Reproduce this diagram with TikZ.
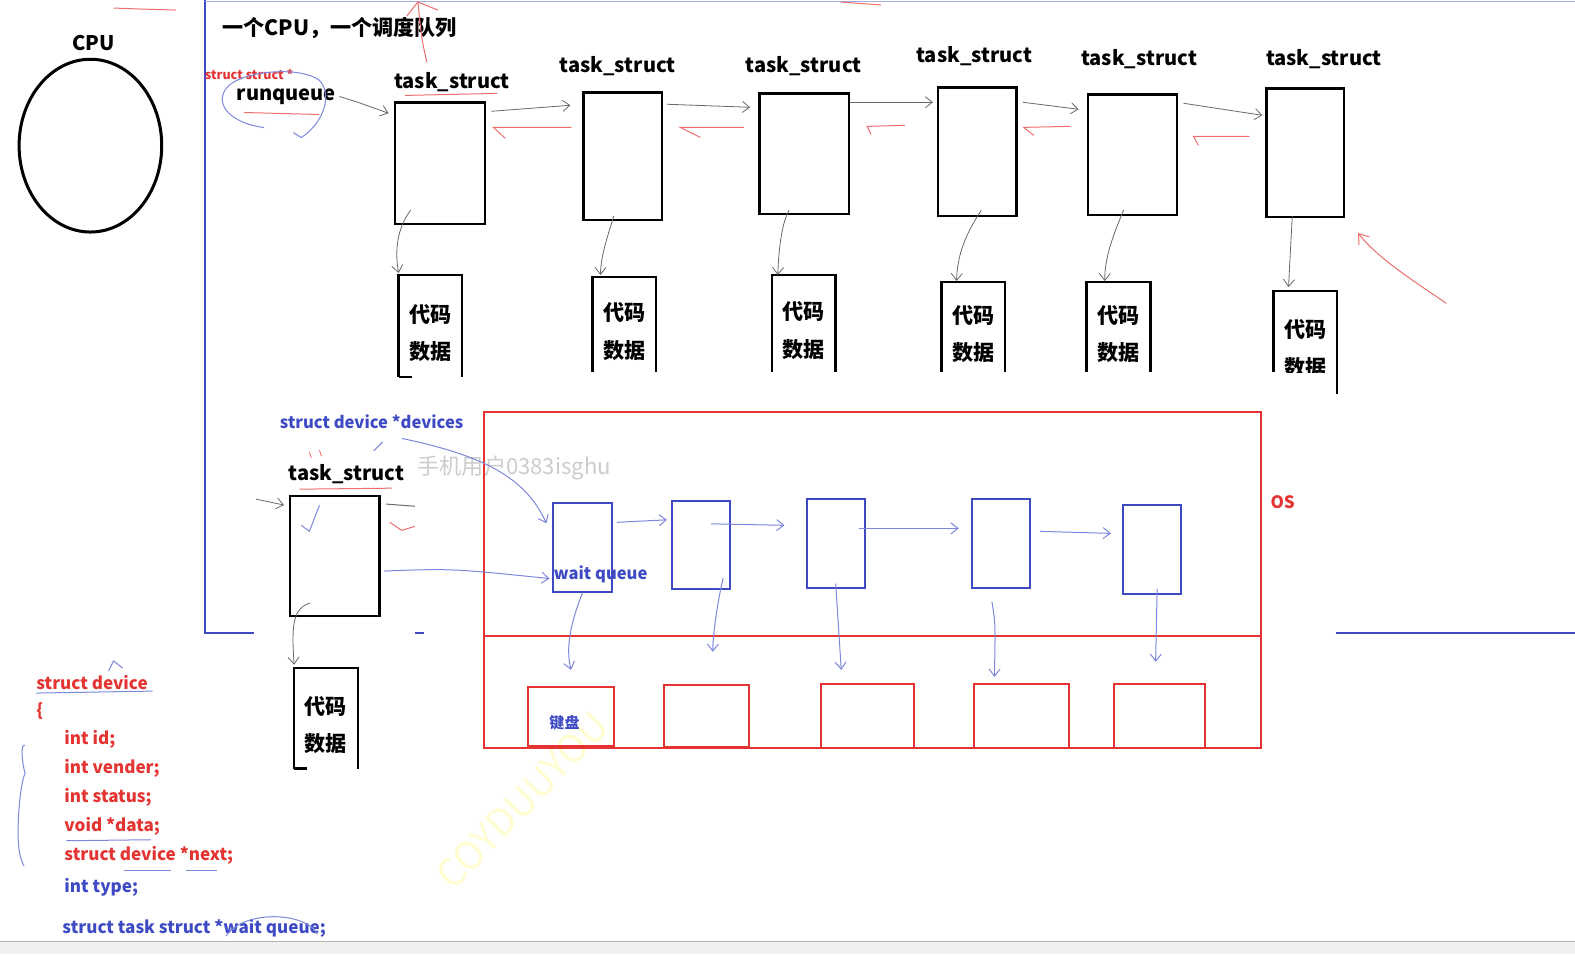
\documentclass[tikz,border=0pt]{standalone}
\usepackage{fontspec}
\setmainfont{Noto Sans CJK SC}
\usepackage{tikz}
\usetikzlibrary{calc,arrows.meta,shapes.geometric}
\definecolor{penred}{RGB}{228,52,50}
\definecolor{penblue}{RGB}{62,74,196}
\definecolor{inkgray}{RGB}{105,105,105}
\definecolor{softred}{RGB}{238,110,110}
\definecolor{softblue}{RGB}{125,135,220}
\tikzset{
 taskbox/.style={draw, line width=2.4pt, inner sep=0pt},
 codebox/.style={inner sep=0pt, minimum width=63pt, align=center, font=\fontsize{21}{37}\selectfont\bfseries},
 codeline/.style={line width=2.4pt},
 devbox/.style={draw=penblue, line width=2pt, inner sep=0pt, minimum width=58pt, minimum height=88pt},
 hwbox/.style={draw=penred, line width=2.2pt, inner sep=0pt},
 tlabel/.style={font=\fontsize{20}{24}\selectfont\bfseries},
 grayarr/.style={inkgray, line width=0.8pt, -{Straight Barb[length=7pt,width=11pt]}},
 redback/.style={softred, line width=1pt},
 bluearr/.style={softblue, line width=1pt, -{Straight Barb[length=7pt,width=11pt]}},
 cline/.style={anchor=west, inner sep=0pt, font=\fontsize{17}{19}\selectfont\bfseries, text=penred},
}
\newcommand{\cdtext}{\rule{0pt}{32pt}代码\\数据}
\begin{document}
\begin{tikzpicture}[x=1pt,y=-1pt]
\useasboundingbox (0,0) rectangle (1568,950);
% screen strip at the bottom
\fill[gray!12] (0,938) rectangle (1568,950);
\draw[gray!60, line width=1.2pt] (0,937) -- (1568,937);
% watermarks
\node[text=gray!40, font=\fontsize{22}{24}\selectfont](wm) at (512,466){手机用户0383isghu};
\node[text=yellow!18, rotate=46, font=\fontsize{38}{40}\selectfont](wm2) at (520,797){COYDUUYOU};

% cpu
\node[tlabel](cpu) at (93,43){CPU};
\node[draw, ellipse, line width=3pt, minimum width=142pt, minimum height=172pt](core) at (90,145){};

% blue frame
\draw[penblue, line width=1.6pt] (253,630) -| (204,0);
\draw[softblue!70, line width=1pt] (204,1) -- (1568,1);
\draw[penblue, line width=1.6pt] (413,630) -- (422,630);
\draw[penblue, line width=1.6pt] (1330,630) -- (1568,630);
\node[tlabel, font=\fontsize{21}{24}\selectfont\bfseries, anchor=west](title) at (218,28){一个CPU，一个调度队列};

% runqueue
\node[font=\fontsize{12.5}{13}\selectfont\bfseries, text=penred](rqtype) at (248,74){struct struct *};
\node[tlabel](rq) at (285,96){runqueue};
\draw[softblue, line width=1pt] (263,127) .. controls (225,122) and (212,100) .. (228,85) .. controls (245,70) and (300,66) .. (318,80) .. controls (330,92) and (325,120) .. (300,137) -- (292,132);
\draw[softred, line width=1pt] (243,112) -- (318,114);

% run queue of task_struct
\node[taskbox, minimum width=90pt, minimum height=121pt](t1) at (438,162.5){};
\node[taskbox, minimum width=78pt, minimum height=127pt](t2) at (620,155.5){};
\node[taskbox, minimum width=89pt, minimum height=120pt](t3) at (800.5,153){};
\node[taskbox, minimum width=78pt, minimum height=128pt](t4) at (973,151){};
\node[taskbox, minimum width=89pt, minimum height=120pt](t5) at (1127.5,154){};
\node[taskbox, minimum width=77pt, minimum height=128pt](t6) at (1299.5,152){};
\node[tlabel](n1) at (450,82){task\_struct};
\node[tlabel](n2) at (615,66){task\_struct};
\node[tlabel](n3) at (800,66){task\_struct};
\node[tlabel](n4) at (970,56){task\_struct};
\node[tlabel](n5) at (1134,59){task\_struct};
\node[tlabel](n6) at (1318,59){task\_struct};
\draw[softred, line width=1pt] (403,95) -- (495,93);

\draw[grayarr] (rq.east) .. controls (360,103) .. ($(t1.north west)+(-5,12)$);
\draw[grayarr] ($(t1.north east)+(5,10)$) -- ($(t2.north west)+(-12,14)$);
\draw[grayarr] ($(t2.north east)+(4,13)$) -- ($(t3.north west)+(-8,15)$);
\draw[grayarr] ($(t3.north east)+(0,10)$) -- ($(t4.north west)+(-4,16)$);
\draw[grayarr] ($(t4.north east)+(5,16)$) -- ($(t5.north west)+(-8,16)$);
\draw[grayarr] ($(t5.north east)+(5,10)$) -- ($(t6.north west)+(-3,28)$);

\draw[redback] ($(t2.north west)+(-11,36)$) -- ($(t1.north east)+(7,26)$) -- ++(12,11);
\draw[redback] ($(t3.north west)+(-14,35)$) -- ($(t2.north east)+(17,36)$) -- ++(20,10);
\draw[redback] ($(t4.north west)+(-32,39)$) -- ($(t3.north east)+(17,34)$) -- ++(4,8);
\draw[redback] ($(t5.north west)+(-16,33)$) -- ($(t4.north east)+(6,41)$) -- ++(10,8);
\draw[redback] ($(t6.north west)+(-16,49)$) -- ($(t5.north east)+(15,43)$) -- ++(5,9);

% code and data
\node[codebox, minimum height=101pt](c1) at (428.5,324.5){\cdtext};
\node[codebox, minimum height=94pt](c2) at (621.5,323){\cdtext};
\node[codebox, minimum height=96pt](c3) at (800,322){\cdtext};
\node[codebox, minimum height=89pt](c4) at (969,325.5){\cdtext};
\node[codebox, minimum height=89pt](c5) at (1113.5,325.5){\cdtext};
\begin{scope}
\clip (1240,280) rectangle (1350,371);
\node[codebox, minimum height=100pt](c6) at (1299.5,340){\cdtext};
\end{scope}
\foreach \c in {c1,c2,c3,c4,c5}
  \draw[codeline] (\c.south west) |- (\c.north east) -- (\c.south east);
\draw[codeline] (c1.south west) -- ++(13,0);
\draw[codeline] ($(c6.north west)+(0,81)$) |- (c6.north east) -- ++(0,102);

\draw[grayarr] ($(t1.south west)+(17,-15)$) .. controls (395,228) and (393,250) .. ($(c1.north west)+(0,-2)$);
\draw[grayarr] ($(t2.south)+(-9,-5)$) .. controls (605,235) and (598,255) .. ($(c2.north west)+(8,-2)$);
\draw[grayarr] ($(t3.south)+(-15,-5)$) .. controls (777,225) and (775,255) .. ($(c3.north west)+(6,0)$);
\draw[grayarr] ($(t4.south)+(4,-7)$) .. controls (960,235) and (953,255) .. ($(c4.north west)+(15,-1)$);
\draw[grayarr] ($(t5.south)+(-9,-6)$) .. controls (1108,235) and (1100,255) .. ($(c5.north west)+(18,-1)$);
\draw[grayarr] ($(t6.south)+(-13,-2)$) -- ($(c6.north west)+(15,-4)$);

% loose pen strokes
\coordinate (mark1) at (1440,302);
\draw[softred, line width=1pt, -{Straight Barb[length=9pt,width=13pt]}] (mark1) .. controls (1400,275) and (1370,255) .. (1352,232);
\draw[softred, line width=1pt] (113,8) -- (140,9) -- (175,10);
\draw[softred, line width=1pt] (837,2) -- (877,5);
\draw[softred, line width=1pt] (425,62) .. controls (420,40) .. (416,2);
\draw[softred, line width=1pt] (405,16) -- (416,2) -- (436,10);

% waiting task
\node[font=\fontsize{16.5}{18}\selectfont\bfseries, text=penblue](devs) at (370,420){struct device *devices};
\node[tlabel](n7) at (345,472){task\_struct};
\draw[softred, line width=1pt] (298,487) -- (390,486);
\draw[softred, line width=0.8pt] (308,450) -- (310,456) (318,448) -- (320,454);
\node[taskbox, minimum width=89pt, minimum height=119pt](t7) at (333.5,553.5){};
\node[codebox, minimum height=100pt](c7) at (324.5,715){\cdtext};
\draw[codeline] (c7.south west) |- (c7.north east) -- (c7.south east);
\draw[codeline] (c7.south west) -- ++(13,0);
\draw[grayarr] ($(t7.south west)+(21,-14)$) .. controls (292,606) and (290,620) .. ($(c7.north west)+(0,-3)$);
\coordinate (inL) at (255,497);
\coordinate (outR) at (413,504);
\draw[grayarr] (inL) -- ($(t7.north west)+(-5,10)$);
\draw[inkgray, line width=1pt] ($(t7.north east)+(5,9)$) -- (outR);
\draw[softred, line width=1pt] (388,520) -- (400,528) -- (413,524);
\draw[softblue, line width=1pt] (300,523) -- (308,529) -- (318,503);
\draw[softblue, line width=1pt] (372,449) -- (381,440);

% OS area
\node[draw=penred, line width=2.2pt, inner sep=0pt, minimum width=773pt, minimum height=335pt](os) at (868.5,577.5){};
\draw[penred, line width=2.2pt] ($(os.north west)+(0,224)$) -- ($(os.north east)+(0,224)$);
\node[font=\fontsize{17}{18}\selectfont\bfseries, text=penred](oslabel) at (1277,500){OS};

\node[devbox](d1) at (580,545){};
\node[devbox](d2) at (698,542.5){};
\node[devbox](d3) at (832,541){};
\node[devbox](d4) at (996.5,541){};
\node[devbox](d5) at (1147,547){};
\node[font=\fontsize{16.5}{18}\selectfont\bfseries, text=penblue](wq) at (598,572){wait\ queue};

\draw[bluearr] ($(devs.south)+(30,6)$) .. controls (490,455) and (525,480) .. ($(d1.north west)+(-6,21)$);
\draw[bluearr] ($(t7.east)+(3,15)$) .. controls (450,566) .. ($(d1.south west)+(-3,-14)$);
\draw[bluearr] ($(d1.north east)+(4,20)$) -- ($(d2.north west)+(-4,20)$);
\draw[bluearr] ($(d2.north)+(10,24)$) -- ($(d3.north west)+(-21,27)$);
\draw[bluearr] ($(d3.north)+(23,30)$) -- ($(d4.north west)+(-12,30)$);
\draw[bluearr] ($(d4.north east)+(9,33)$) -- ($(d5.north west)+(-11,29)$);

\node[hwbox, minimum width=85pt, minimum height=59pt](h1) at (568.5,713.5){};
\node[hwbox, minimum width=85pt, minimum height=62pt](h2) at (703.5,713){};
\node[hwbox, minimum width=93pt, minimum height=64pt](h3) at (863.5,713){};
\node[hwbox, minimum width=94pt, minimum height=64pt](h4) at (1017,713){};
\node[hwbox, minimum width=91pt, minimum height=64pt](h5) at (1154.5,713){};
\node[font=\fontsize{15}{16}\selectfont\bfseries, text=penblue](kbd) at (562,720){键盘};

\draw[bluearr] (d1.south) .. controls (568,620) and (563,645) .. ($(h1.north)+(0,-16)$);
\draw[bluearr] ($(d2.south)+(22,-12)$) .. controls (714,600) and (710,630) .. ($(h2.north)+(6,-32)$);
\draw[bluearr] ($(d3.south)+(0,-5)$) -- ($(h3.north)+(-26,-13)$);
\draw[bluearr] ($(d4.south)+(-9,13)$) .. controls (991,620) .. ($(h4.north)+(-27,-6)$);
\draw[bluearr] ($(d5.south)+(5,-6)$) -- ($(h5.north)+(-4,-21)$);

% struct device
\node[cline](s0) at (36,679){struct device};
\node[cline](s1) at (36,708){\{};
\node[cline](s2) at (64,736){int id;};
\node[cline](s3) at (64,765){int vender;};
\node[cline](s4) at (64,794){int status;};
\node[cline](s5) at (64,823){void *data;};
\node[cline](s6) at (64,852){struct device *next;};
\node[cline, text=penblue](s7) at (64,883){int type;};
\node[cline, text=penblue](s8) at (62,924){struct task struct *wait queue;};
\draw[softblue, line width=1pt] (36,690) -- (152,688);
\draw[softblue, line width=1pt] (66,837) -- (150,836);
\draw[softblue, line width=1pt] (123,867) -- (170,867);
\draw[softblue, line width=1pt] (185,867) -- (216,867);
\draw[softblue, line width=1pt] (108,668) -- (113,658) -- (122,665);
\draw[softblue, line width=1pt] (225,932) .. controls (243,905) and (305,908) .. (316,930);
\draw[softblue, line width=1pt] (25,742) .. controls (20,740) and (22,760) .. (25,770) .. controls (22,775) and (18,800) .. (18,830) .. controls (18,845) and (20,855) .. (24,862);
\end{tikzpicture}
\end{document}
